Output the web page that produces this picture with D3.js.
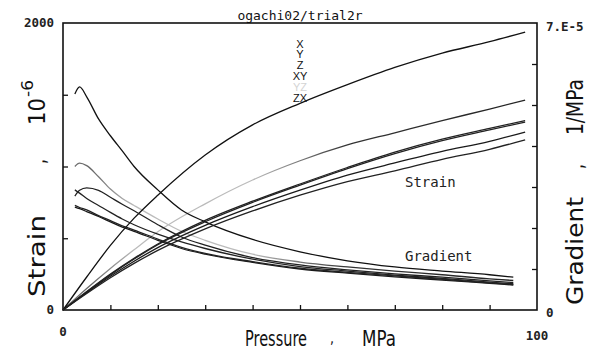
<!DOCTYPE html>
<html>
<head>
<meta charset="utf-8">
<script src="https://cdn.jsdelivr.net/npm/d3@7"></script>
<style>
  body { margin: 0; background: #fff; }
  svg { display: block; }
</style>
</head>
<body>
<div id="canvas"></div>
<script>
// strain curves (10^-6) against pressure (MPa)
const strainP = [0, 5, 10, 15, 20, 30, 40, 50, 60, 70, 80, 90, 97.5];
const strainX = [0, 230, 450, 640, 800, 1080, 1290, 1440, 1570, 1690, 1790, 1870, 1937];
const strainY = [0, 128, 250, 360, 460, 625, 758, 878, 993, 1100, 1190, 1265, 1320];
const strainZ = [0, 125, 245, 355, 455, 615, 750, 870, 985, 1090, 1180, 1255, 1310];
const strainXY = [0, 120, 235, 340, 435, 590, 720, 835, 940, 1025, 1105, 1175, 1240];
const strainYZ = [0, 150, 290, 420, 545, 740, 906, 1040, 1150, 1235, 1320, 1400, 1463];
const strainZX = [0, 115, 225, 325, 415, 565, 690, 800, 895, 970, 1050, 1120, 1185];

// gradient curves (1e-5 1/MPa)
const gradP = [2.5, 3.5, 5, 7.5, 10, 12.5, 15, 20, 25, 30, 40, 50, 60, 70, 80, 90, 95];
const gradX = [5.27, 5.44, 5.2, 4.66, 4.25, 3.88, 3.5, 2.93, 2.44, 2.15, 1.72, 1.42, 1.2, 1.05, 0.95, 0.86, 0.8];
const gradY = [2.78, 2.92, 2.98, 2.92, 2.75, 2.58, 2.42, 2.08, 1.78, 1.58, 1.28, 1.1, 0.98, 0.88, 0.8, 0.71, 0.67];
const gradZ = [2.93, 2.85, 2.72, 2.55, 2.38, 2.22, 2.08, 1.85, 1.66, 1.5, 1.24, 1.06, 0.95, 0.85, 0.77, 0.68, 0.64];
const gradXY = [2.51, 2.47, 2.4, 2.28, 2.15, 2.02, 1.92, 1.7, 1.5, 1.36, 1.16, 1.0, 0.9, 0.81, 0.73, 0.65, 0.61];
const gradYZ = [3.5, 3.58, 3.52, 3.25, 2.95, 2.72, 2.55, 2.22, 1.92, 1.7, 1.36, 1.17, 1.05, 0.95, 0.86, 0.76, 0.72];
const gradZX = [2.55, 2.5, 2.44, 2.3, 2.18, 2.05, 1.95, 1.73, 1.53, 1.38, 1.18, 1.02, 0.92, 0.83, 0.75, 0.66, 0.62];

const seriesNames = ["X", "Y", "Z", "XY", "YZ", "ZX"];
const seriesColors = ["#111", "#222", "#222", "#1a1a1a", "url(#fadeGray)", "#222"];
const legendColors = ["#111", "#111", "#111", "#111", "#d4d4d4", "#111"];

const xTicks = [10, 20, 30, 40, 50, 60, 70, 80, 90];
const yLeftTicks = [500, 1000, 1500];
const yRightTicks = [1, 2, 3, 4, 5, 6];

const title = "ogachi02/trial2r";

const width = 589;
const height = 352;
const margin = { top: 23, left: 63, bottom: 42, right: 52 };
const iwidth = width - margin.left - margin.right;
const iheight = height - margin.top - margin.bottom;

const svg = d3.select("#canvas").append("svg")
  .attr("width", width)
  .attr("height", height);

// the YZ pen is pale in the early part of the run and darker later on
const grad = svg.append("defs").append("linearGradient")
  .attr("id", "fadeGray")
  .attr("gradientUnits", "userSpaceOnUse")
  .attr("x1", 0).attr("x2", iwidth).attr("y1", 0).attr("y2", 0);
grad.append("stop").attr("offset", "0").attr("stop-color", "#777");
grad.append("stop").attr("offset", "0.06").attr("stop-color", "#666");
grad.append("stop").attr("offset", "0.15").attr("stop-color", "#bbb");
grad.append("stop").attr("offset", "0.4").attr("stop-color", "#bbb");
grad.append("stop").attr("offset", "0.6").attr("stop-color", "#333");
grad.append("stop").attr("offset", "1").attr("stop-color", "#222");

const g = svg.append("g")
  .attr("transform", `translate(${margin.left},${margin.top})`);

const x = d3.scaleLinear().domain([0, 100]).range([0, iwidth]);
const yL = d3.scaleLinear().domain([0, 2000]).range([iheight, 0]);
const yR = d3.scaleLinear().domain([0, 7]).range([iheight, 0]);

// inward ticks
const tickStyle = (sel) => {
  sel.select(".domain").remove();
  sel.selectAll(".tick line").attr("stroke", "#111").attr("stroke-width", 1.3);
};
g.append("g").attr("transform", `translate(0,${iheight})`)
  .call(d3.axisBottom(x).tickValues(xTicks).tickSize(-5).tickFormat(""))
  .call(tickStyle);
g.append("g")
  .call(d3.axisLeft(yL).tickValues(yLeftTicks).tickSize(-5).tickFormat(""))
  .call(tickStyle);
g.append("g").attr("transform", `translate(${iwidth},0)`)
  .call(d3.axisRight(yR).tickValues(yRightTicks).tickSize(-5).tickFormat(""))
  .call(tickStyle);

g.append("rect")
  .attr("width", iwidth)
  .attr("height", iheight)
  .attr("fill", "none")
  .attr("stroke", "#111")
  .attr("stroke-width", 1.6);

// curves
const strainSeries = [strainX, strainY, strainZ, strainXY, strainYZ, strainZX];
const gradSeries = [gradX, gradY, gradZ, gradXY, gradYZ, gradZX];

const strainLine = d3.line()
  .x((d) => x(d[0]))
  .y((d) => yL(d[1]))
  .curve(d3.curveMonotoneX);
const gradLine = d3.line()
  .x((d) => x(d[0]))
  .y((d) => yR(d[1]))
  .curve(d3.curveMonotoneX);

// draw gray series first so black ones sit over it
const order = [4, 0, 1, 2, 3, 5];
order.forEach((i) => {
  g.append("path")
    .datum(strainP.map((p, k) => [p, strainSeries[i][k]]))
    .attr("d", strainLine)
    .attr("fill", "none")
    .attr("stroke", seriesColors[i])
    .attr("stroke-width", 1.3);
  g.append("path")
    .datum(gradP.map((p, k) => [p, gradSeries[i][k]]))
    .attr("d", gradLine)
    .attr("fill", "none")
    .attr("stroke", seriesColors[i])
    .attr("stroke-width", 1.3);
});

// tick labels
const mono = "'DejaVu Sans Mono', monospace";
const tickLabel = (tx, ty, t, anchor) =>
  svg.append("text")
    .attr("x", tx).attr("y", ty)
    .attr("text-anchor", anchor)
    .attr("font-family", mono)
    .attr("font-weight", "bold")
    .attr("font-size", 12.5)
    .attr("fill", "#222")
    .text(t);

tickLabel(margin.left - 9, margin.top + yL(2000) + 4, "2000", "end");
tickLabel(margin.left - 9, margin.top + yL(0) + 4, "0", "end");
tickLabel(margin.left + x(0), margin.top + iheight + 26, "0", "middle");
tickLabel(margin.left + x(100), margin.top + iheight + 30, "100", "middle");
tickLabel(margin.left + iwidth + 9, margin.top + yR(7) + 8, "7.E-5", "start");
tickLabel(margin.left + iwidth + 9, margin.top + yR(0) + 7, "0", "start");

// title
svg.append("text")
  .attr("x", 300).attr("y", 20)
  .attr("text-anchor", "middle")
  .attr("font-family", mono)
  .attr("font-size", 13)
  .attr("fill", "#111")
  .text(title);

// legend
seriesNames.forEach((n, i) => {
  svg.append("text")
    .attr("x", 300).attr("y", 47.5 + i * 10.8)
    .attr("text-anchor", "middle")
    .attr("font-family", "'Liberation Sans', sans-serif")
    .attr("font-size", 11)
    .attr("fill", legendColors[i])
    .text(n);
});

// in-plot annotations
svg.append("text")
  .attr("x", 405).attr("y", 187)
  .attr("font-family", mono).attr("font-size", 14).attr("fill", "#222")
  .text("Strain");
svg.append("text")
  .attr("x", 405).attr("y", 261)
  .attr("font-family", mono).attr("font-size", 14).attr("fill", "#222")
  .text("Gradient");

// axis titles: narrow lettering, squeezed horizontally to the wanted length
const big = "'DejaVu Sans', sans-serif";
const axisText = (parent, tx, ty, t, len, size) => {
  const holder = parent.append("g");
  const txt = holder.append("text")
    .attr("font-family", big)
    .attr("font-size", size)
    .attr("fill", "#111")
    .text(t);
  const natural = txt.node().getComputedTextLength();
  holder.attr("transform", `translate(${tx},${ty}) scale(${len / natural},1)`);
  return holder;
};

axisText(svg, 245, 346, "Pressure", 62, 21);
axisText(svg, 330, 343, ",", 4, 16);
axisText(svg, 362, 346, "MPa", 34, 21);

const leftTitle = svg.append("g").attr("transform", "translate(45,297) rotate(-90)");
axisText(leftTitle, 0, 0, "Strain", 82, 23);
axisText(leftTitle, 133, 0, ",", 5, 23);
axisText(leftTitle, 172, 0, "10", 27, 23);
axisText(leftTitle, 200, -12, "-6", 17, 15);

const rightTitle = svg.append("g").attr("transform", "translate(583,305) rotate(-90)");
axisText(rightTitle, 0, 0, "Gradient", 108, 23);
axisText(rightTitle, 136, 0, ",", 5, 23);
axisText(rightTitle, 170, 0, "1/MPa", 56, 23);
</script>
</body>
</html>
